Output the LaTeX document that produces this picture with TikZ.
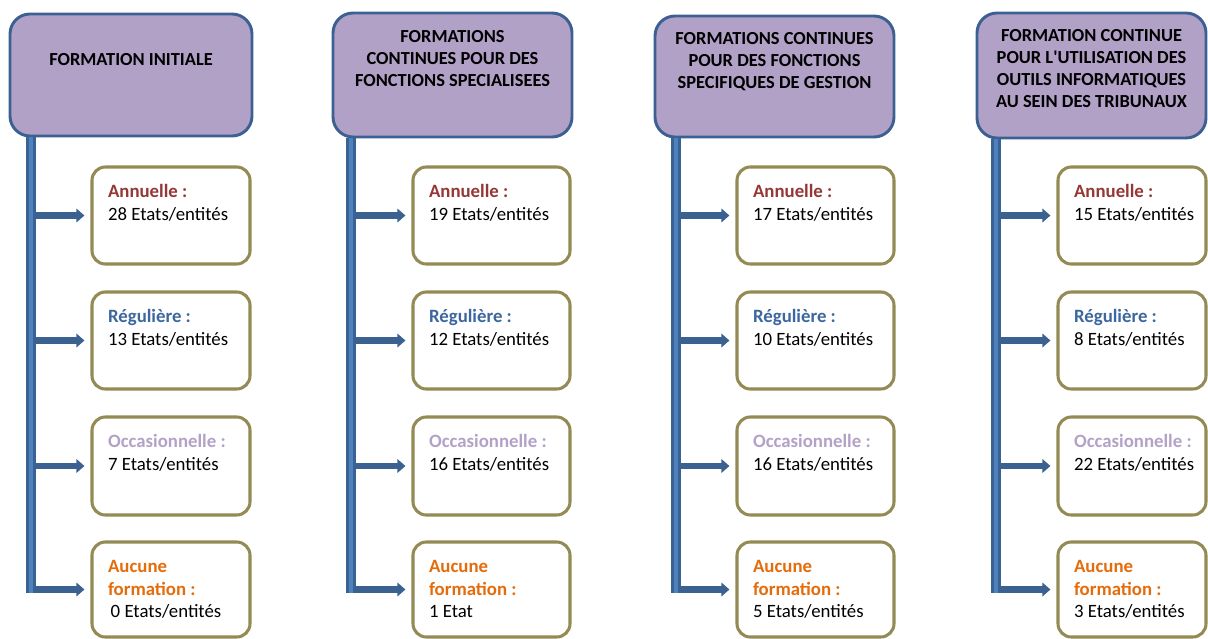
\documentclass[tikz,border=0pt]{standalone}
\usepackage{fontspec}
\setmainfont{Carlito}
\usetikzlibrary{arrows.meta,positioning,fit}
\definecolor{hdfill}{HTML}{B2A1C7}
\definecolor{hdline}{HTML}{3C6091}
\definecolor{trunkline}{HTML}{3A6395}
\definecolor{trunkfill}{HTML}{4F81BD}
\definecolor{arrc}{HTML}{3A6190}
\definecolor{boxline}{HTML}{948A54}
\definecolor{annc}{HTML}{953735}
\definecolor{regc}{HTML}{3C679F}
\definecolor{occc}{HTML}{B3A2C7}
\definecolor{aucc}{HTML}{E46C0A}
\newcommand\annl{\textcolor{annc}{\bfseries Annuelle :}}
\newcommand\regl{\textcolor{regc}{\bfseries Régulière :}}
\newcommand\occl{\textcolor{occc}{\bfseries Occasionnelle :}}
\newcommand\aucl{\textcolor{aucc}{\bfseries Aucune}\\\textcolor{aucc}{\bfseries formation :}}
\tikzset{
  hdbox/.style={draw=hdline,fill=hdfill,line width=2.2pt,rounded corners=15pt,inner sep=0pt},
  hdtxt/.style={align=center,inner sep=0pt,font=\bfseries\fontsize{13.8}{16.5}\selectfont},
  cbox/.style={draw=boxline,fill=white,line width=2.3pt,rounded corners=10pt,inner sep=0pt},
  txt/.style={anchor=base west,xshift=13pt,yshift=-41pt,align=left,inner sep=0pt,font=\fontsize{14.1}{16.7}\selectfont},
  txtb/.style={txt,yshift=-16.7pt},
  trunk/.style={draw=trunkline,double=trunkfill,line width=1.6pt,double distance=3.6pt},
  arr/.style={draw=arrc,line width=5pt,-{Triangle[width=10pt,length=6pt]},shorten >=4.5pt}
}
\begin{document}
\begin{tikzpicture}[x=.75pt,y=-.75pt]
\useasboundingbox (0,0) rectangle (1208,639);
% headers and trunk ends
\foreach \c/\l/\t/\r/\b/\k in {1/10/14/252/136/31,2/333/13/572/137/351,3/655/16/894/137/676,4/977/13/1206/138/996}{
  \node[hdbox,fit={(\l,\t) (\r,\b)}] (h\c) {};
  \coordinate (k\c) at (\k,593);
}
% answer boxes with their arrows
\foreach \c/\l/\r in {1/92/250,2/413/570,3/737/894,4/1058/1206}
  \foreach \n/\t/\b in {1/167/264,2/292/389,3/417/515,4/542/637}{
    \node[cbox,fit={(\l,\t) (\r,\b)}] (b\c\n) {};
    \draw[arr] (k\c |- b\c\n.west) -- (b\c\n.west);
  }
\foreach \c in {1,...,4}{\draw[trunk] (h\c.south -| k\c) -- (k\c);}
\node[hdtxt] (ht1) at ([yshift=-35.25pt]h1.north) {FORMATION INITIALE};
\node[hdtxt] (ht2) at ([yshift=-35.25pt]h2.north) {FORMATIONS\\CONTINUES POUR DES\\FONCTIONS SPECIALISEES};
\node[hdtxt] (ht3) at ([yshift=-35.25pt]h3.north) {FORMATIONS CONTINUES\\POUR DES FONCTIONS\\SPECIFIQUES DE GESTION};
\node[hdtxt] (ht4) at ([yshift=-42.75pt]h4.north) {FORMATION CONTINUE\\POUR L\textquotesingle UTILISATION DES\\OUTILS INFORMATIQUES\\AU SEIN DES TRIBUNAUX};
% column 1
\node[txt] (t11) at (b11.north west) {\annl\\28 Etats/entités};
\node[txt] (t12) at (b12.north west) {\regl\\13 Etats/entités};
\node[txt] (t13) at (b13.north west) {\occl\\7 Etats/entités};
\node[txtb] (t14) at (b14.north west) {\aucl\\\hspace{2pt}0 Etats/entités};
% column 2
\node[txt] (t21) at (b21.north west) {\annl\\19 Etats/entités};
\node[txt] (t22) at (b22.north west) {\regl\\12 Etats/entités};
\node[txt] (t23) at (b23.north west) {\occl\\16 Etats/entités};
\node[txtb] (t24) at (b24.north west) {\aucl\\1 Etat};
% column 3
\node[txt] (t31) at (b31.north west) {\annl\\17 Etats/entités};
\node[txt] (t32) at (b32.north west) {\regl\\10 Etats/entités};
\node[txt] (t33) at (b33.north west) {\occl\\16 Etats/entités};
\node[txtb] (t34) at (b34.north west) {\aucl\\5 Etats/entités};
% column 4
\node[txt] (t41) at (b41.north west) {\annl\\15 Etats/entités};
\node[txt] (t42) at (b42.north west) {\regl\\8 Etats/entités};
\node[txt] (t43) at (b43.north west) {\occl\\22 Etats/entités};
\node[txtb] (t44) at (b44.north west) {\aucl\\3 Etats/entités};
\end{tikzpicture}
\end{document}
